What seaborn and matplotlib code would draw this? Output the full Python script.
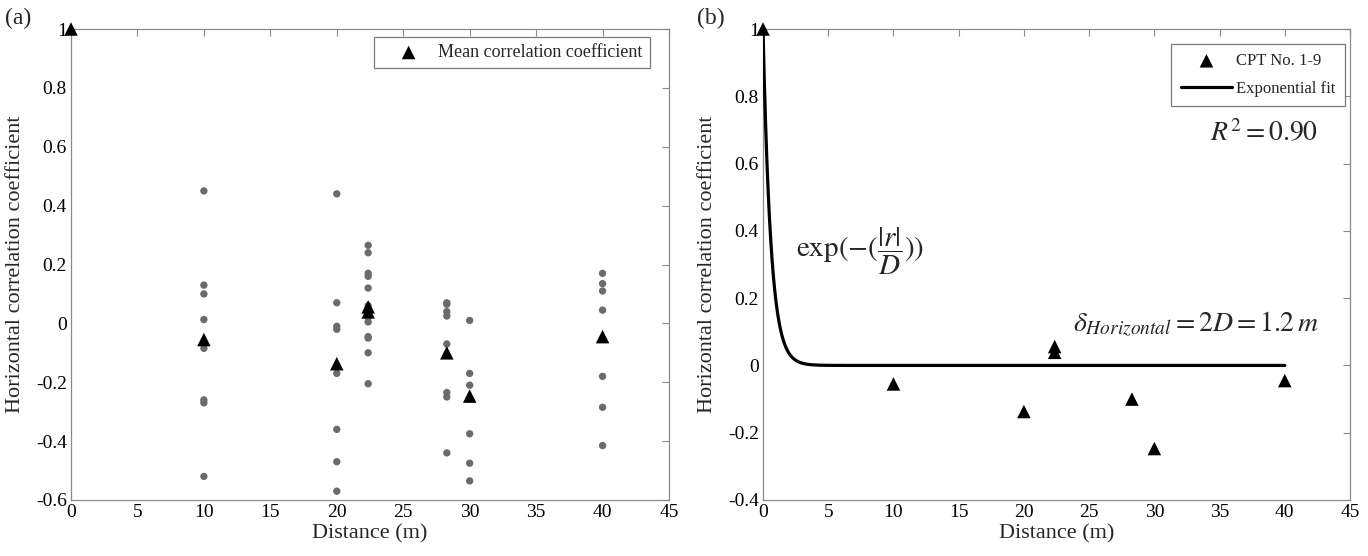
import numpy as np
import pandas as pd
import matplotlib
matplotlib.use("Agg")
import matplotlib.pyplot as plt
import seaborn as sns

# ---------------- data ----------------
# individual correlation coefficients (panel a)
dist_10 = [0.45, 0.13, 0.10, 0.013, -0.085, -0.26, -0.27, -0.52]
dist_20 = [0.44, 0.07, -0.01, -0.02, -0.17, -0.36, -0.47, -0.57]
dist_22 = [0.265, 0.24, 0.17, 0.16, 0.12, 0.06, 0.03, 0.02, 0.005,
           -0.045, -0.05, -0.10, -0.205]
dist_28 = [0.07, 0.065, 0.04, 0.025, -0.07, -0.235, -0.25, -0.44]
dist_30 = [0.01, -0.17, -0.21, -0.375, -0.475, -0.535]
dist_40 = [0.17, 0.135, 0.11, 0.045, -0.18, -0.285, -0.415]
point_distances = [10, 20, 22.36, 28.28, 30, 40]
point_values = [dist_10, dist_20, dist_22, dist_28, dist_30, dist_40]

# mean correlation coefficients (both panels)
mean_distance = [0, 10, 20, 22.36, 22.36, 28.28, 30, 40]
mean_value = [1.0, -0.055, -0.137, 0.056, 0.039, -0.10, -0.247, -0.045]

# exponential fit parameter (delta = 2D = 1.2 m)
D_fit = 0.6
fit_range = [0, 40]

x_ticks = [0, 5, 10, 15, 20, 25, 30, 35, 40, 45]
y_ticks_a = [-0.6, -0.4, -0.2, 0, 0.2, 0.4, 0.6, 0.8, 1]
y_ticks_b = [-0.4, -0.2, 0, 0.2, 0.4, 0.6, 0.8, 1]

# ---------------- style ----------------
sns.set_theme(style="white")
plt.rcParams["font.family"] = ["Liberation Serif", "DejaVu Serif"]
plt.rcParams["mathtext.fontset"] = "stix"
plt.rcParams["axes.unicode_minus"] = False

pts = pd.DataFrame({
    "Distance": np.concatenate([[d] * len(v) for d, v in zip(point_distances, point_values)]),
    "Coef": np.concatenate(point_values),
})
means = pd.DataFrame({"Distance": mean_distance, "Coef": mean_value})
r = np.linspace(fit_range[0], fit_range[1], 4001)
fit = pd.DataFrame({"Distance": r, "Coef": np.exp(-np.abs(r) / D_fit)})

fig = plt.figure(figsize=(13.68, 5.56), dpi=100)
axA = fig.add_axes([71 / 1368, 56 / 556, 598 / 1368, 471 / 556])
axB = fig.add_axes([763 / 1368, 56 / 556, 587 / 1368, 471 / 556])

spine_col = "#8a8a8a"
def style_axes(ax, yticks, ylim):
    ax.set_xlim(0, 45)
    ax.set_ylim(*ylim)
    ax.set_xticks(x_ticks)
    ax.set_yticks(yticks)
    ax.set_xticklabels([f"{t:g}" for t in x_ticks])
    ax.set_yticklabels([f"{t:g}" for t in yticks])
    ax.tick_params(direction="in", length=5, width=0.8, color=spine_col,
                   top=True, right=True, labelsize=14, pad=3,
                   labelcolor="black")
    for s in ax.spines.values():
        s.set_color(spine_col)
        s.set_linewidth(0.9)
    ax.set_xlabel("Distance (m)", fontsize=16, labelpad=2)
    ax.set_ylabel("Horizontal correlation coefficient", fontsize=16, labelpad=8)

# ---- panel (a) ----
sns.scatterplot(data=pts, x="Distance", y="Coef", ax=axA, color="#6b6b6b",
                s=28, edgecolor="none", zorder=3, legend=False)
sns.scatterplot(data=means, x="Distance", y="Coef", ax=axA, color="black",
                marker="^", s=95, edgecolor="none", zorder=4,
                label="Mean correlation coefficient", clip_on=False)
style_axes(axA, y_ticks_a, (-0.6, 1))
legA = axA.legend(loc="upper right", bbox_to_anchor=(1 - 19 / 598, 1 - 8 / 471),
                  borderaxespad=0, fontsize=13,
                  frameon=True, fancybox=False, edgecolor="#7a7a7a",
                  framealpha=1, borderpad=0.4, handletextpad=0.15,
                  handlelength=3.0)
legA.get_frame().set_linewidth(0.9)

# ---- panel (b) ----
sns.lineplot(data=fit, x="Distance", y="Coef", ax=axB, color="black",
             linewidth=2.3, label="Exponential fit", zorder=3)
sns.scatterplot(data=means, x="Distance", y="Coef", ax=axB, color="black",
                marker="^", s=95, edgecolor="none", zorder=4,
                label="CPT No. 1-9", clip_on=False)
style_axes(axB, y_ticks_b, (-0.4, 1))
h, l = axB.get_legend_handles_labels()
order = [l.index("CPT No. 1-9"), l.index("Exponential fit")]
legB = axB.legend([h[i] for i in order], [l[i] for i in order],
                  loc="upper right", bbox_to_anchor=(1 - 5 / 587, 1 - 15 / 471),
                  borderaxespad=0, fontsize=12,
                  frameon=True, fancybox=False, edgecolor="#7a7a7a",
                  framealpha=1, borderpad=0.55, handletextpad=0.25,
                  handlelength=3.1, labelspacing=0.7)
legB.get_frame().set_linewidth(0.9)

axB.text(34.3, 0.69, r"$R^2 = 0.90$", fontsize=20, ha="left", va="center")
axB.text(2.5, 0.34, r"$\exp(-(\dfrac{|r|}{D}))$", fontsize=21,
         ha="left", va="center")
axB.text(23.8, 0.125, r"$\delta_{Horizontal} = 2D = 1.2\,m$", fontsize=20,
         ha="left", va="center")

fig.text(5 / 1368, 1 - 18 / 556, "(a)", fontsize=17, ha="left", va="center")
fig.text(697 / 1368, 1 - 18 / 556, "(b)", fontsize=17, ha="left", va="center")

fig.savefig("out.png", dpi=100)
